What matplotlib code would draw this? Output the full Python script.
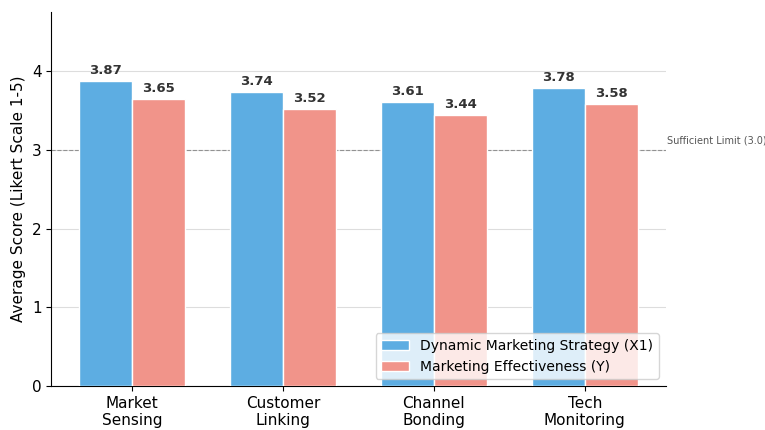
import numpy as np
import matplotlib.pyplot as plt

# data
categories = ["Market\nSensing", "Customer\nLinking", "Channel\nBonding", "Tech\nMonitoring"]
x1_scores = [3.87, 3.74, 3.61, 3.78]
y_scores = [3.65, 3.52, 3.44, 3.58]
limit = 3.0

fig, ax = plt.subplots(figsize=(7.65, 4.3), dpi=100)
fig.subplots_adjust(left=0.067, right=0.87, top=0.972, bottom=0.102)

x = np.arange(len(categories))
w = 0.35
b1 = ax.bar(x - w/2, x1_scores, w, color="#5DADE2", edgecolor="white", linewidth=1,
            label="Dynamic Marketing Strategy (X1)", zorder=3)
b2 = ax.bar(x + w/2, y_scores, w, color="#F1948A", edgecolor="white", linewidth=1,
            label="Marketing Effectiveness (Y)", zorder=3)

for bars in (b1, b2):
    for b in bars:
        ax.text(b.get_x() + b.get_width()/2, b.get_height() + 0.05, f"{b.get_height():.2f}",
                ha="center", va="bottom", fontsize=9.5, fontweight="bold", color="#333333")

ax.axhline(limit, color="gray", linestyle="--", linewidth=0.8, alpha=0.8, zorder=2)
ax.text(1.002, limit + 0.05, "Sufficient Limit (3.0)", transform=ax.get_yaxis_transform(),
        fontsize=7, color="#555555", va="bottom", ha="left")

ax.set_ylim(0, 4.75)
ax.set_yticks([0, 1, 2, 3, 4])
ax.set_xticks(x)
ax.set_xticklabels(categories, fontsize=11)
ax.tick_params(axis="y", labelsize=11)
ax.set_ylabel("Average Score (Likert Scale 1-5)", fontsize=11)
ax.grid(axis="y", color="#dddddd", linewidth=0.8, zorder=0)
ax.spines["top"].set_visible(False)
ax.spines["right"].set_visible(False)
ax.legend(loc="lower right", fontsize=10)

plt.savefig("out.png")
